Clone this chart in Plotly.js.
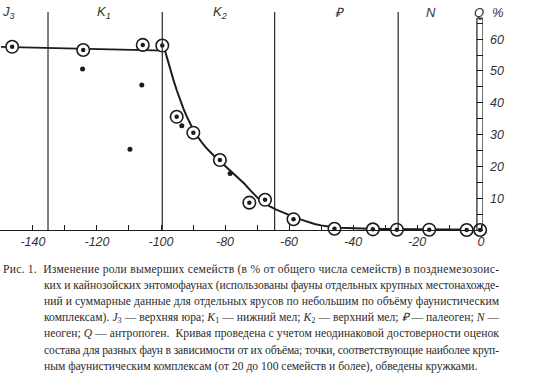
<!DOCTYPE html>
<html>
<head>
<meta charset="utf-8">
<script src="https://cdn.plot.ly/plotly-3.0.1.min.js"></script>
<style>
  html, body { margin: 0; padding: 0; background: #fff; }
  #chart { width: 558px; height: 391px; }
</style>
</head>
<body>
<div id="chart"></div>
<script>
// ---- data ----
// age in Ma (negative = before present), share of extinct families in %
const circledAge = [-146.5, -124.3, -105.7, -99.6, -95.1, -89.9, -81.6, -72.4, -67.5, -58.6, -45.8, -33.8, -26.3, -16.2, -4.5, -0.3];
const circledPct = [57.6, 56.6, 58.2, 58.0, 35.6, 30.6, 22.0, 8.6, 9.5, 3.4, 0.4, 0.2, 0.1, 0.1, 0.0, 0.0];

const dotAge = [-124.5, -106.0, -109.7, -93.5, -78.4];
const dotPct = [50.6, 45.6, 25.4, 32.8, 17.8];

const plateauAge = [-150.0, -98.75];
const plateauPct = [57.6, 56.4];

const curveAge = [-98.75, -98, -97, -96, -95, -94, -93, -92, -91, -90, -89, -88, -87, -86, -85, -84, -82, -80, -78, -76, -74, -72, -70, -68, -66, -64, -62, -60, -58, -56, -54, -52, -50, -48, -46, -44, -42, -40, -35, -30, -20, -10, 0];
const curvePct = [56.4, 53.6, 50.1, 46.8, 43.7, 40.8, 38.2, 35.8, 33.6, 31.7, 30.0, 28.5, 27.2, 26.0, 24.9, 23.9, 22.0, 20.2, 18.4, 16.6, 14.6, 12.4, 10.3, 8.7, 7.4, 6.4, 5.5, 4.7, 3.9, 3.2, 2.5, 1.9, 1.45, 1.1, 0.85, 0.7, 0.6, 0.5, 0.4, 0.3, 0.2, 0.15, 0.1];

// period boundaries (Ma) and period labels
const boundaryAge = [-135.3, -99.6, -64.5, -25.9];
const periodLabels = ['J<sub>3</sub>', 'K<sub>1</sub>', 'K<sub>2</sub>', '₽', 'N', 'Q'];
const periodAge = [-147.6, -117.8, -81.6, -44.0, -15.5, -0.8];

// ticks
const xTickVals = [-140, -120, -100, -80, -60, -40, -20, 0];
const xTickLabels = ['-140', '-120', '-100', '-80', '-60', '-40', '-20', '0'];
const yTickVals = [10, 20, 30, 40, 50, 60];
const yTickLabels = ['10', '20', '30', '40', '50', '60'];

const captionLines = [
  'Рис. 1.  Изменение роли вымерших семейств (в % от общего числа семейств) в позднемезозоис-',
  'ких и кайнозойских энтомофаунах (использованы фауны отдельных крупных местонахожде-',
  'ний и суммарные данные для отдельных ярусов по небольшим по объёму фаунистическим',
  'комплексам). <i>J</i><sub>3</sub> — верхняя юра; <i>K</i><sub>1</sub> — нижний мел; <i>K</i><sub>2</sub> — верхний мел; <i>₽</i> — палеоген; <i>N</i> —',
  'неоген; <i>Q</i> — антропоген.  Кривая проведена с учетом неодинаковой достоверности оценок',
  'состава для разных фаун в зависимости от их объёма; точки, соответствующие наиболее круп-',
  'ным фаунистическим комплексам (от 20 до 100 семейств и более), обведены кружками.'
];

// ---- layout geometry ----
const W = 558, H = 391;
const M = { l: 0, r: 75, t: 12, b: 161 };
const plotW = W - M.l - M.r;      // 483
const plotH = H - M.t - M.b;      // 218
const yMax = 68.55;
const xRange = [-150.3, 0.6];
const ink = '#1c1c1c';

function pxToPaperX(px) { return (px - M.l) / plotW; }
function pxToPaperY(py) { return (M.t + plotH - py) / plotH; }

const traces = [
  { x: plateauAge, y: plateauPct, mode: 'lines', line: { color: ink, width: 1.8 }, hoverinfo: 'skip', cliponaxis: false },
  { x: curveAge, y: curvePct, mode: 'lines', line: { color: ink, width: 2 }, hoverinfo: 'skip', cliponaxis: false },
  { x: dotAge, y: dotPct, mode: 'markers', marker: { color: ink, size: 5 }, cliponaxis: false },
  { x: circledAge, y: circledPct, mode: 'markers', marker: { symbol: 'circle', color: '#fff', size: 12.5, line: { color: ink, width: 1.6 } }, cliponaxis: false },
  { x: circledAge, y: circledPct, mode: 'markers', marker: { color: ink, size: 4.5 }, cliponaxis: false }
];

const shapes = boundaryAge.map(a => ({
  type: 'line', xref: 'x', yref: 'y', x0: a, x1: a, y0: 0, y1: yMax,
  line: { color: '#2a2a2a', width: 1.2 }
}));
// y-axis drawn as a narrow double-line bar
shapes.push({ type: 'line', xref: 'x', yref: 'y', x0: -1.3, x1: -1.3, y0: 0, y1: 66.6, line: { color: ink, width: 1.2 } });
shapes.push({ type: 'line', xref: 'x', yref: 'y', x0: 0.6, x1: 0.6, y0: 0, y1: 66.6, line: { color: ink, width: 1.2 } });
shapes.push({ type: 'line', xref: 'x', yref: 'y', x0: -1.3, x1: 0.6, y0: 66.6, y1: 66.6, line: { color: ink, width: 1.2 } });

const labelFont = { family: 'Liberation Sans, Arial, sans-serif', size: 13, color: '#333', style: 'italic' };

const annotations = periodLabels.map((t, i) => ({
  text: t, xref: 'x', yref: 'paper', x: periodAge[i], y: pxToPaperY(13),
  xanchor: 'center', yanchor: 'middle', showarrow: false, font: labelFont
}));
annotations.push({
  text: '%', xref: 'paper', yref: 'paper', x: pxToPaperX(498), y: pxToPaperY(13),
  xanchor: 'center', yanchor: 'middle', showarrow: false, font: labelFont
});

const captionStart = annotations.length;
const captionY = [269, 285.2, 301.4, 317.6, 333.8, 350, 366.2];
const captionLeft = [1, 42, 42, 42, 42, 42, 42];
const captionRight = 497;
captionLines.forEach((t, i) => {
  annotations.push({
    text: t, xref: 'paper', yref: 'paper',
    x: pxToPaperX(captionLeft[i]), y: pxToPaperY(captionY[i]),
    xanchor: 'left', yanchor: 'middle', showarrow: false, align: 'left',
    font: { family: 'Liberation Serif, Times New Roman, serif', size: 11.6, color: '#2a2a2a' }
  });
});

const layout = {
  width: W, height: H, margin: M,
  paper_bgcolor: '#fff', plot_bgcolor: '#fff',
  showlegend: false,
  xaxis: {
    range: xRange, showgrid: false, zeroline: false,
    showline: true, linecolor: ink, linewidth: 1.3,
    ticks: 'inside', ticklen: 5, tickcolor: ink, tickwidth: 1,
    tickmode: 'array', tickvals: xTickVals, ticktext: xTickLabels,
    minor: { tickmode: 'linear', tick0: 0, dtick: 10, ticks: 'inside', ticklen: 5, tickcolor: ink, tickwidth: 1 },
    tickfont: { family: 'Liberation Sans, Arial, sans-serif', size: 12.5, color: '#333', style: 'italic' }
  },
  yaxis: {
    range: [0, yMax], side: 'right', showgrid: false, zeroline: false, showline: false,
    ticks: 'inside', ticklen: 6, tickcolor: ink, tickwidth: 1,
    tickmode: 'array', tickvals: yTickVals, ticktext: yTickLabels,
    minor: { tickmode: 'linear', tick0: 0, dtick: 5, ticks: 'inside', ticklen: 6, tickcolor: ink, tickwidth: 1 },
    ticklabelstandoff: 6,
    tickfont: { family: 'Liberation Sans, Arial, sans-serif', size: 12.5, color: '#333', style: 'italic' }
  },
  shapes: shapes,
  annotations: annotations
};

Plotly.newPlot('chart', traces, layout, { staticPlot: true, displayModeBar: false }).then(gd => {
  // justify the caption lines (all but the last) to the common right edge
  const texts = gd.querySelectorAll('.annotation');
  captionLines.forEach((t, i) => {
    if (i === captionLines.length - 1) return;
    const g = texts[captionStart + i];
    if (!g) return;
    const el = g.querySelector('text.annotation-text');
    if (!el) return;
    el.setAttribute('textLength', String(captionRight - captionLeft[i]));
    el.setAttribute('lengthAdjust', 'spacing');
  });
});
</script>
</body>
</html>
